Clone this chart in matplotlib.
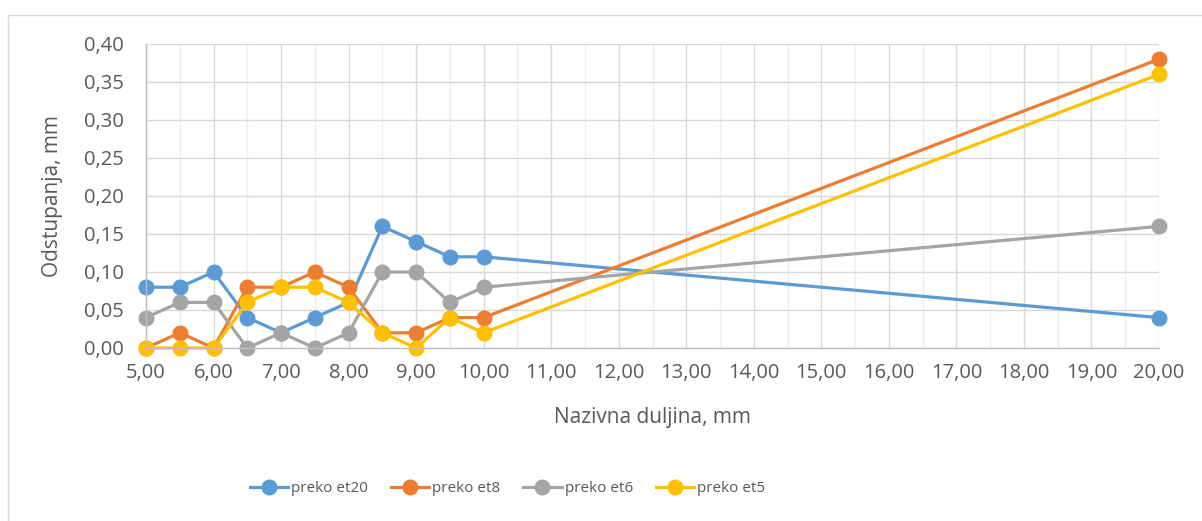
import matplotlib.pyplot as plt
from matplotlib.patches import Rectangle
from matplotlib.ticker import FuncFormatter, MultipleLocator

# Nazivne duljine (mm) i odstupanja (mm) po metodi
duljina = [5.0, 5.5, 6.0, 6.5, 7.0, 7.5, 8.0, 8.5, 9.0, 9.5, 10.0, 20.0]
et20 = [0.08, 0.08, 0.10, 0.04, 0.02, 0.04, 0.06, 0.16, 0.14, 0.12, 0.12, 0.04]
et8 = [0.00, 0.02, 0.00, 0.08, 0.08, 0.10, 0.08, 0.02, 0.02, 0.04, 0.04, 0.38]
et6 = [0.04, 0.06, 0.06, 0.00, 0.02, 0.00, 0.02, 0.10, 0.10, 0.06, 0.08, 0.16]
et5 = [0.00, 0.00, 0.00, 0.06, 0.08, 0.08, 0.06, 0.02, 0.00, 0.04, 0.02, 0.36]

SERIES = [
    ("preko et20", et20, "#5B9BD5"),
    ("preko et8", et8, "#ED7D31"),
    ("preko et6", et6, "#A5A5A5"),
    ("preko et5", et5, "#FFC000"),
]

TEXT = "#595959"
plt.rcParams["font.family"] = ["Open Sans", "DejaVu Sans"]

fig = plt.figure(figsize=(12.02, 5.21), dpi=100)
fig.patches.append(Rectangle((8 / 1202, -0.1), 1.2, 1 - 15 / 521 + 0.1,
                             transform=fig.transFigure, fill=False,
                             edgecolor="#d9d9d9", linewidth=1.0))

ax = fig.add_axes([146 / 1202, 1 - 348 / 521, (1159 - 146) / 1202, (348 - 44) / 521])

for label, values, color in SERIES:
    ax.plot(duljina, values, color=color, linewidth=2.3, marker="o",
            markersize=10.5, label=label, clip_on=False)

ax.set_xlim(5, 20)
ax.set_ylim(0, 0.40)
ax.xaxis.set_major_locator(MultipleLocator(1))
ax.xaxis.set_minor_locator(MultipleLocator(0.5))
ax.yaxis.set_major_locator(MultipleLocator(0.05))

comma = FuncFormatter(lambda v, pos: f"{v:.2f}".replace(".", ","))
ax.xaxis.set_major_formatter(comma)
ax.yaxis.set_major_formatter(comma)

ax.grid(True, which="major", color="#d9d9d9", linewidth=1.0)
ax.grid(True, which="minor", axis="x", color="#eeeeee", linewidth=1.0)
ax.set_axisbelow(True)

for side in ("top", "right"):
    ax.spines[side].set_visible(False)
for side in ("left", "bottom"):
    ax.spines[side].set_color("#bfbfbf")
    ax.spines[side].set_linewidth(1.0)

ax.tick_params(which="both", length=0, labelsize=14.5, colors=TEXT)
ax.tick_params(axis="y", pad=16)
ax.tick_params(axis="x", pad=11)

# Naslovi osi
fig.text(652 / 1202, 1 - 418 / 521, "Nazivna duljina, mm", fontsize=15,
         color=TEXT, ha="center", va="center")
fig.text(53 / 1202, 1 - 196 / 521, "Odstupanja, mm", fontsize=15,
         color=TEXT, ha="center", va="center", rotation=90)

fig.legend(loc="center left", bbox_to_anchor=(250 / 1202, 1 - 489 / 521), ncol=4,
           frameon=False, labelcolor=TEXT, fontsize=11, borderpad=0,
           borderaxespad=0, handlelength=2.5, handletextpad=0.2,
           columnspacing=1.5)

fig.savefig("out.png", dpi=100)
